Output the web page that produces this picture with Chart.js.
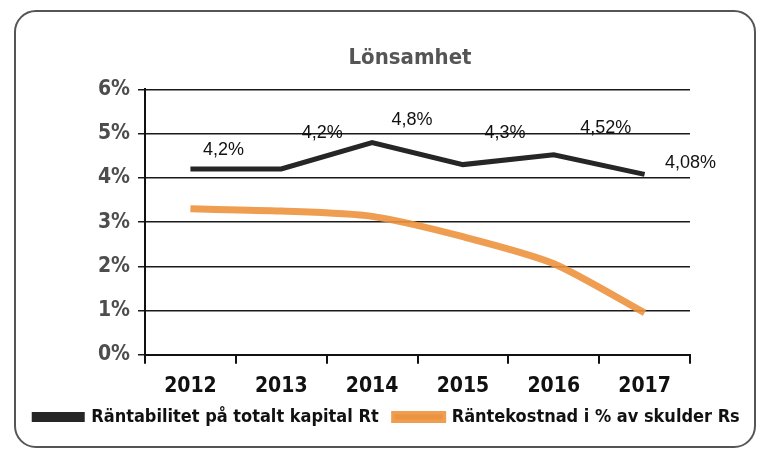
<!DOCTYPE html>
<html lang="sv">
<head>
  <meta charset="UTF-8">
  <title>Lönsamhet</title>
  <style>
    body {
      margin: 0;
      background: #ffffff;
      width: 768px;
      height: 463px;
      overflow: hidden;
      position: relative;
    }
    #card {
      position: absolute;
      left: 14px;
      top: 10px;
      width: 742px;
      height: 438px;
      border: 2px solid #555;
      border-radius: 22px;
      box-sizing: border-box;
    }
    #chart-container {
      position: absolute;
      left: 0;
      top: 0;
      width: 768px;
      height: 463px;
    }
  </style>
</head>
<body>
  <div id="card"></div>
  <div id="chart-container">
    <canvas id="lonsamhetChart"></canvas>
  </div>

  <script src="https://cdn.jsdelivr.net/npm/chart.js"></script>
  <script>
    const years = ['2012', '2013', '2014', '2015', '2016', '2017'];
    const rtValues = [4.2, 4.2, 4.8, 4.3, 4.52, 4.08];   // Räntabilitet på totalt kapital Rt
    const rsValues = [3.3, 3.25, 3.13, 2.67, 2.06, 0.95]; // Räntekostnad i % av skulder Rs
    const yTicks = [0, 1, 2, 3, 4, 5, 6];

    const narrowFont = "'Liberation Sans Narrow', 'DejaVu Sans Condensed', 'Roboto', sans-serif";

    // writes the value above each point of the first series
    const pointLabels = {
      id: 'pointLabels',
      afterDatasetsDraw(chart, args, opts) {
        const ctx = chart.ctx;
        const meta = chart.getDatasetMeta(0);
        ctx.save();
        ctx.font = '18px Arial, "Liberation Sans", sans-serif';
        ctx.fillStyle = '#111';
        ctx.textAlign = 'center';
        ctx.textBaseline = 'bottom';
        meta.data.forEach((pt, i) => {
          const txt = String(rtValues[i]).replace('.', ',') + '%';
          const off = opts.offsets[i];
          ctx.fillText(txt, pt.x + off[0], pt.y + off[1]);
        });
        ctx.restore();
      }
    };

    // title centred over the plot, legend pulled up closer to the axis labels
    const nudgeBlocks = {
      id: 'nudgeBlocks',
      afterLayout(chart, args, opts) {
        if (chart.titleBlock) {
          chart.titleBlock.left += opts.titleShift;
          chart.titleBlock.right += opts.titleShift;
        }
        if (chart.legend) {
          chart.legend.top -= opts.legendShift;
          chart.legend.bottom -= opts.legendShift;
        }
      }
    };

    const ctx = document.getElementById('lonsamhetChart').getContext('2d');

    const chart = new Chart(ctx, {
      type: 'line',
      data: {
        labels: years,
        datasets: [
          {
            label: 'Räntabilitet på totalt kapital Rt',
            data: rtValues,
            borderColor: '#262626',
            backgroundColor: '#262626',
            borderWidth: 5,
            pointRadius: 0,
            tension: 0,
            fill: false
          },
          {
            label: 'Räntekostnad i % av skulder Rs',
            data: rsValues,
            borderColor: 'rgba(236, 146, 62, 0.9)',
            backgroundColor: 'rgba(236, 146, 62, 0.9)',
            borderWidth: 7,
            pointRadius: 0,
            tension: 0.25,
            fill: false
          }
        ]
      },
      options: {
        responsive: true,
        maintainAspectRatio: false,
        animation: false,
        layout: {
          padding: { left: 16, right: 10, top: 41, bottom: 10 }
        },
        scales: {
          x: {
            offset: true,
            grid: {
              offset: true,
              drawOnChartArea: false,
              drawTicks: true,
              tickLength: 9,
              color: '#111',
              lineWidth: 2
            },
            border: { color: '#111', width: 2 },
            ticks: {
              color: '#111',
              padding: 10,
              font: { family: narrowFont, size: 21, weight: 'bold' }
            }
          },
          y: {
            min: 0,
            max: 6,
            afterFit: (axis) => { axis.width = 129; },
            afterBuildTicks: (axis) => {
              axis.ticks = yTicks.map(v => ({ value: v }));
            },
            grid: {
              color: '#1a1a1a',
              lineWidth: 1.5,
              drawTicks: true,
              tickLength: 7
            },
            border: { color: '#111', width: 2 },
            ticks: {
              color: '#4d4d4d',
              padding: 8,
              callback: (v) => v + '%',
              font: { family: narrowFont, size: 21, weight: 'bold' }
            }
          },
          // empty axis on the right, only keeps room for the last label
          yRight: {
            position: 'right',
            min: 0,
            max: 6,
            afterFit: (axis) => { axis.width = 68; },
            grid: { drawOnChartArea: false, drawTicks: false },
            border: { display: false },
            ticks: { display: false }
          }
        },
        plugins: {
          title: {
            display: true,
            text: 'Lönsamhet',
            color: '#555',
            font: { family: narrowFont, size: 22, weight: 'bold' },
            padding: { top: 4, bottom: 18 }
          },
          legend: {
            position: 'bottom',
            labels: {
              color: '#111',
              boxWidth: 48,
              boxHeight: 5,
              padding: 16,
              font: { family: narrowFont, size: 18, weight: 'bold' }
            }
          },
          tooltip: { enabled: false },
          pointLabels: {
            offsets: [[33, -10], [41, -27], [40, -13], [42, -23], [52, -18], [46, -2]]
          },
          nudgeBlocks: { titleShift: 23, legendShift: 17 }
        }
      },
      plugins: [pointLabels, nudgeBlocks]
    });
  </script>
</body>
</html>
